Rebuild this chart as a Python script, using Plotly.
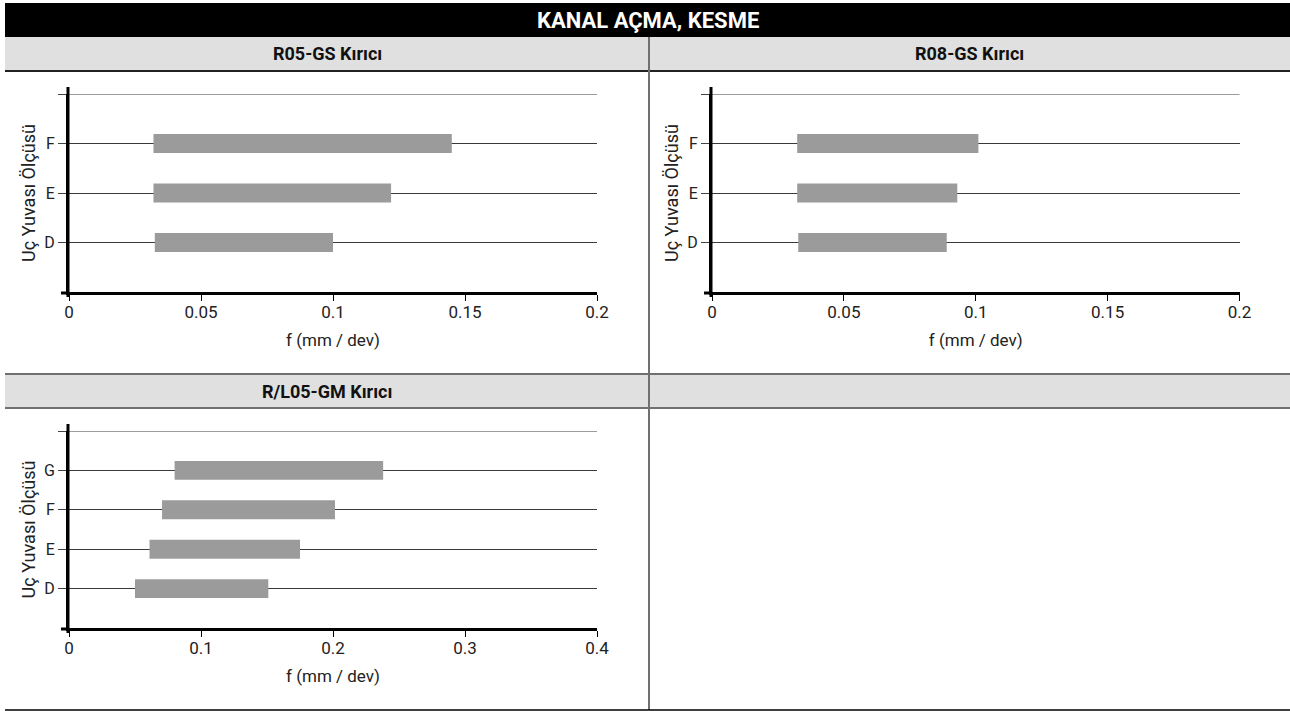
import plotly.graph_objects as go

# ---------------- data ----------------
title_text = "KANAL AÇMA, KESME"
y_title = "Uç Yuvası Ölçüsü"
x_title = "f (mm / dev)"

p1_name = "R05-GS Kırıcı"
p1_sizes = ["D", "E", "F"]
p1_start = [0.0325, 0.032, 0.032]
p1_end = [0.100, 0.122, 0.145]
p1_xticks = [0, 0.05, 0.1, 0.15, 0.2]

p2_name = "R08-GS Kırıcı"
p2_sizes = ["D", "E", "F"]
p2_start = [0.0327, 0.0323, 0.0323]
p2_end = [0.089, 0.093, 0.101]
p2_xticks = [0, 0.05, 0.1, 0.15, 0.2]

p3_name = "R/L05-GM Kırıcı"
p3_sizes = ["D", "E", "F", "G"]
p3_start = [0.050, 0.061, 0.0705, 0.080]
p3_end = [0.151, 0.175, 0.2015, 0.238]
p3_xticks = [0, 0.1, 0.2, 0.3, 0.4]

# ---------------- layout helpers ----------------
W, H = 1290, 711
BAR_COLOR = "#9b9b9b"
FONT = "Roboto"


def px(x):
    return x / W


def py(y):
    return 1 - y / H


panels = [
    dict(name=p1_name, sizes=p1_sizes, start=p1_start, end=p1_end, xticks=p1_xticks,
         box=(69, 597, 94, 292), barw=0.385),
    dict(name=p2_name, sizes=p2_sizes, start=p2_start, end=p2_end, xticks=p2_xticks,
         box=(712, 1239.5, 94, 292), barw=0.385),
    dict(name=p3_name, sizes=p3_sizes, start=p3_start, end=p3_end, xticks=p3_xticks,
         box=(69, 597, 431, 628), barw=0.48),
]

fig = go.Figure()
shapes = []
annotations = []

for i, p in enumerate(panels, start=1):
    xa = "x" if i == 1 else f"x{i}"
    ya = "y" if i == 1 else f"y{i}"
    n = len(p["sizes"])
    pos = list(range(1, n + 1))
    fig.add_trace(go.Bar(
        y=pos,
        x=[e - s for s, e in zip(p["start"], p["end"])],
        base=p["start"],
        orientation="h",
        width=p["barw"],
        marker=dict(color=BAR_COLOR, line=dict(width=0)),
        xaxis=xa, yaxis=ya, showlegend=False, hoverinfo="skip",
    ))
    x0, x1, y0, y1 = p["box"]
    xmax = p["xticks"][-1]
    key_x = "xaxis" if i == 1 else f"xaxis{i}"
    key_y = "yaxis" if i == 1 else f"yaxis{i}"
    fig.update_layout({
        key_x: dict(
            domain=[px(x0), px(x1)], range=[0, xmax], anchor=ya,
            automargin=False,
            tickvals=p["xticks"], ticktext=[f"{v:g}" for v in p["xticks"]],
            ticks="outside", ticklen=6, tickwidth=1, tickcolor="#000",
            ticklabelstandoff=-3,
            showgrid=False, zeroline=False,
            showline=True, linewidth=3, linecolor="#000",
            tickfont=dict(family=FONT, size=17, color="#222"),
            title=dict(text=x_title, standoff=13,
                       font=dict(family=FONT, size=17, color="#222")),
            fixedrange=True,
        ),
        key_y: dict(
            domain=[py(y1), py(y0)], range=[0, n + 1], anchor=xa,
            automargin=False,
            tickvals=pos + [n + 1], ticktext=p["sizes"] + [""],
            ticks="outside", ticklen=8, tickwidth=1, tickcolor="#444",
            showgrid=True, gridcolor="#3a3a3a", gridwidth=1,
            zeroline=False,
            showline=True, linewidth=3, linecolor="#000",
            tickfont=dict(family=FONT, size=16, color="#222"),
            title=dict(text=y_title, standoff=4,
                       font=dict(family=FONT, size=18, color="#222")),
            fixedrange=True,
        ),
    })
    # top gridline (plotly drops grid lines at the range edge)
    shapes.append(dict(type="line", xref=f"{xa} domain", yref=ya,
                       x0=0, x1=1, y0=n + 1, y1=n + 1,
                       line=dict(color="#3a3a3a", width=1)))
    # axis line extensions (decoration)
    shapes.append(dict(type="line", xref="paper", yref="paper",
                       x0=px(x0 - 1), x1=px(x0 - 1), y0=py(y0 - 7), y1=py(y1 + 5),
                       line=dict(color="#000", width=3)))
    shapes.append(dict(type="line", xref="paper", yref="paper",
                       x0=px(x0 - 8), x1=px(x0), y0=py(y1 + 1), y1=py(y1 + 1),
                       line=dict(color="#000", width=3)))

# ---------------- frame / headers ----------------
LEFT, RIGHT = 5, 1290
DIV_X = 649
shapes += [
    dict(type="rect", xref="paper", yref="paper", layer="below",
         x0=px(LEFT), x1=px(RIGHT), y0=py(37), y1=py(3),
         fillcolor="#000", line=dict(width=0)),
    dict(type="rect", xref="paper", yref="paper", layer="below",
         x0=px(LEFT), x1=px(RIGHT), y0=py(70.5), y1=py(37),
         fillcolor="#e0e0e0", line=dict(width=0)),
    dict(type="line", xref="paper", yref="paper",
         x0=px(LEFT), x1=px(RIGHT), y0=py(71), y1=py(71),
         line=dict(color="#222", width=2)),
    dict(type="rect", xref="paper", yref="paper", layer="below",
         x0=px(LEFT), x1=px(RIGHT), y0=py(408), y1=py(374),
         fillcolor="#e0e0e0", line=dict(width=0)),
    dict(type="line", xref="paper", yref="paper",
         x0=px(LEFT), x1=px(RIGHT), y0=py(374), y1=py(374),
         line=dict(color="#707070", width=2)),
    dict(type="line", xref="paper", yref="paper",
         x0=px(LEFT), x1=px(RIGHT), y0=py(408), y1=py(408),
         line=dict(color="#707070", width=2)),
    dict(type="line", xref="paper", yref="paper",
         x0=px(DIV_X), x1=px(DIV_X), y0=py(37), y1=py(710),
         line=dict(color="#707070", width=2)),
    dict(type="line", xref="paper", yref="paper",
         x0=px(LEFT), x1=px(RIGHT), y0=py(710), y1=py(710),
         line=dict(color="#000", width=1.5)),
]

annotations += [
    dict(text=f"<b>{title_text}</b>", xref="paper", yref="paper",
         x=px((LEFT + RIGHT) / 2), y=py(20), showarrow=False,
         font=dict(family=FONT, size=22, color="#fff"),
         xanchor="center", yanchor="middle"),
    dict(text=f"<b>{p1_name}</b>", xref="paper", yref="paper",
         x=px((LEFT + DIV_X) / 2), y=py(54), showarrow=False,
         font=dict(family=FONT, size=18, color="#111"),
         xanchor="center", yanchor="middle"),
    dict(text=f"<b>{p2_name}</b>", xref="paper", yref="paper",
         x=px((DIV_X + RIGHT) / 2), y=py(54), showarrow=False,
         font=dict(family=FONT, size=18, color="#111"),
         xanchor="center", yanchor="middle"),
    dict(text=f"<b>{p3_name}</b>", xref="paper", yref="paper",
         x=px((LEFT + DIV_X) / 2), y=py(391), showarrow=False,
         font=dict(family=FONT, size=18, color="#111"),
         xanchor="center", yanchor="middle"),
]

fig.update_layout(
    width=W, height=H,
    margin=dict(l=0, r=0, t=0, b=0, pad=0, autoexpand=False),
    paper_bgcolor="#fff", plot_bgcolor="rgba(0,0,0,0)",
    shapes=shapes, annotations=annotations,
    barmode="overlay",
    font=dict(family=FONT, color="#222"),
)

fig.write_html(
    "out.html",
    config={"displayModeBar": False},
    post_script="document.body.style.margin='0';document.body.style.overflow='hidden';",
)
